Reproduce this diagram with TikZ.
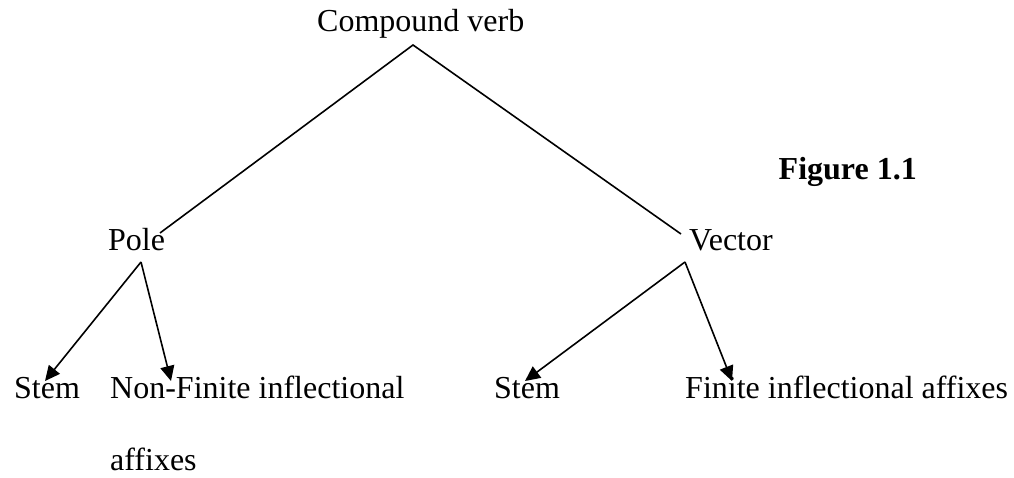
\documentclass[tikz,border=0pt]{standalone}
\usepackage{fontspec}
\setmainfont{Liberation Serif}
\usetikzlibrary{arrows.meta}
\begin{document}
\begin{tikzpicture}[x=1pt,y=-1pt,
  lbl/.style={anchor=base west,inner sep=0pt,font=\fontsize{32}{38}\selectfont},
  edge/.style={line width=1.6pt},
  arr/.style={edge,-{Triangle[length=15pt,width=14pt]}}]
\useasboundingbox (0,0) rectangle (1014,478);
\node[lbl] (cv) at (317,32) {Compound verb};
\node[lbl,anchor=base east,font=\fontsize{32}{38}\selectfont\bfseries] (fig) at (917,180) {Figure 1.1};
\node[lbl] (pole) at (108,251) {Pole};
\node[lbl] (vec) at (689,251) {Vector};
\node[lbl] (stem1) at (14,398) {Stem};
\node[lbl] (nf) at (110,398) {Non-Finite inflectional};
\node[lbl] (aff) at (110,470) {affixes};
\node[lbl] (stem2) at (494,398) {Stem};
\node[lbl] (fin) at (685,398) {Finite inflectional affixes};
\coordinate (apex) at (413,45);
\coordinate (poleIn) at (160,233);
\coordinate (vecIn) at (681,234);
\coordinate (poleOut) at (141,262);
\coordinate (vecOut) at (685,262);
\coordinate (t1) at (45,381);
\coordinate (t2) at (171,381);
\coordinate (t3) at (525,381);
\coordinate (t4) at (732,381);
\draw[edge] (poleIn) -- (apex) -- (vecIn);
\draw[arr] (poleOut) -- (t1);
\draw[arr] (poleOut) -- (t2);
\draw[arr] (vecOut) -- (t3);
\draw[arr] (vecOut) -- (t4);
\end{tikzpicture}
\end{document}
